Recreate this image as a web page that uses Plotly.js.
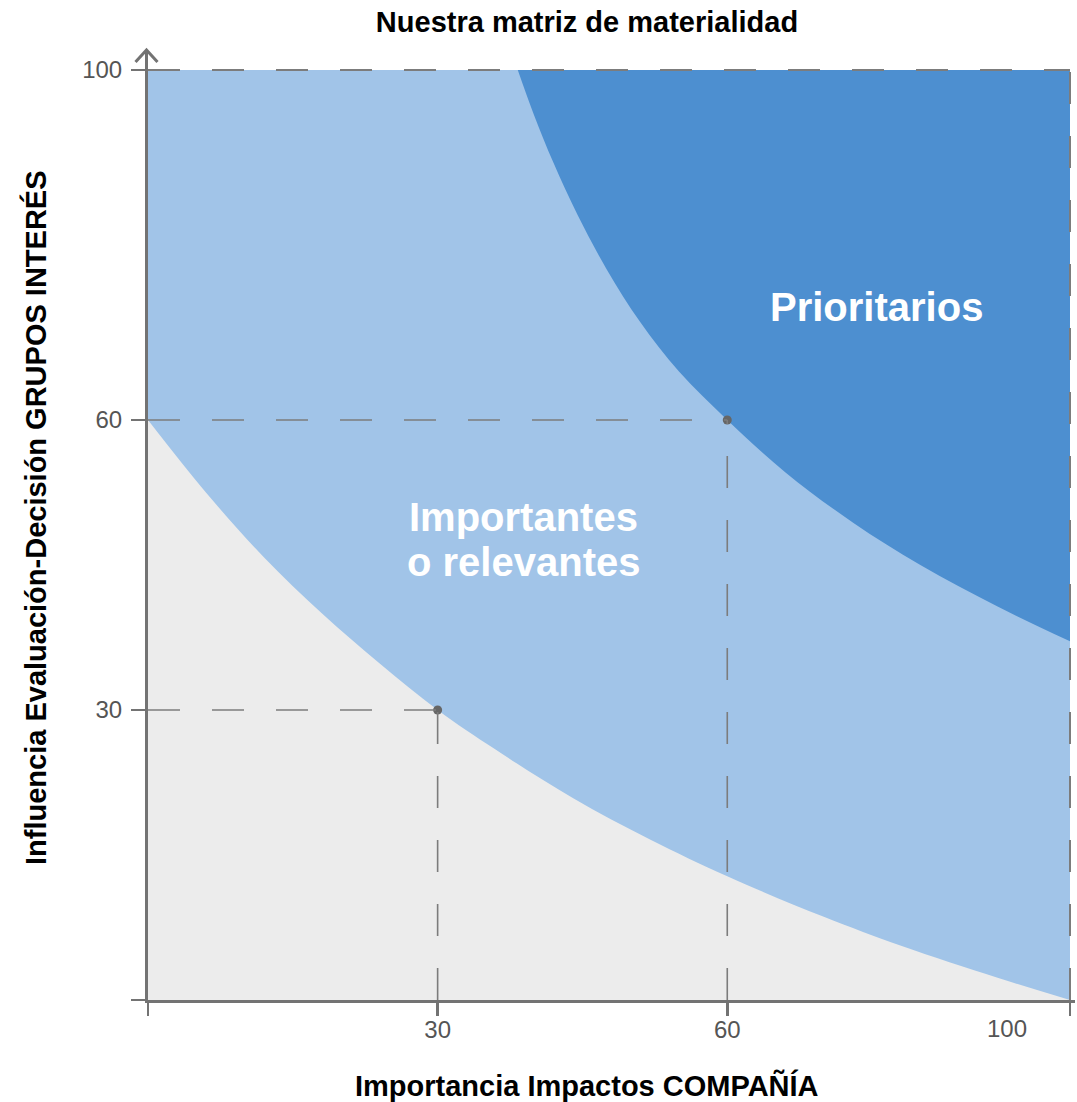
<!DOCTYPE html>
<html>
<head>
<meta charset="utf-8">
<script src="https://cdn.plot.ly/plotly-3.0.1.min.js"></script>
<style>
  html, body { margin: 0; padding: 0; background: #ffffff; }
  #chart { width: 1077px; height: 1102px; }
</style>
</head>
<body>
<div id="chart"></div>
<script>
// ---------- data ----------
const chartTitle = 'Nuestra matriz de materialidad';
const xAxisTitle = 'Importancia Impactos COMPAÑÍA';
const yAxisTitle = 'Influencia Evaluación-Decisión GRUPOS INTERÉS';

// axis extents (edge of the matrix, labelled "100")
const xMax = 95.5;
const yMax = 96.2;

// lower boundary: grey zone / "Importantes o relevantes"
const lowerX = [0, 6, 12, 18, 24, 30, 36, 44, 52, 60, 70, 78, 88, 95.5];
const lowerY = [60, 52.5, 45.8, 40.0, 34.8, 30, 25.9, 20.9, 16.6, 12.8, 8.6, 5.6, 2.3, 0];

// upper boundary: "Prioritarios"
const upperX = [38.3, 40, 42, 44.5, 47.5, 51, 55, 60, 66, 73, 80, 88, 95.5];
const upperY = [96.2, 91.5, 86.6, 81.2, 75.6, 70.1, 65.0, 60, 54.6, 49.4, 45.0, 40.7, 37.1];

// threshold points
const pointX = [30, 60];
const pointY = [30, 60];

// tick labels
const xTickVals = [0, 30, 60, xMax];
const xTickText = ['', '30', '60', ''];
const xEdgeLabel = '100';
const yTickVals = [0, 30, 60, yMax];
const yTickText = ['', '30', '60', '100'];

// region labels
const regionPrior = 'Prioritarios';
const regionImp1 = 'Importantes';
const regionImp2 = 'o relevantes';

// ---------- styles ----------
const FONT = 'Liberation Sans, Arial, Helvetica, sans-serif';
const GREY_BG = '#ececec';
const LIGHT_BLUE = '#a1c4e8';
const DARK_BLUE = '#4d8fd0';
const AXIS_COL = '#737373';
const DASH_COL = '#7c7c7c';
const TICK_FONT = { family: FONT, size: 24, color: '#555555' };
const PH = 930, PW = 922;

const topLine = {
  x: [0, xMax], y: [yMax, yMax], mode: 'lines',
  line: { width: 0 }, hoverinfo: 'skip', showlegend: false
};

const traces = [
  topLine,
  {
    x: lowerX, y: lowerY, mode: 'lines', fill: 'tonexty', fillcolor: LIGHT_BLUE,
    line: { width: 0, shape: 'spline', smoothing: 1 }, hoverinfo: 'skip', showlegend: false
  },
  Object.assign({}, topLine),
  {
    x: upperX, y: upperY, mode: 'lines', fill: 'tonexty', fillcolor: DARK_BLUE,
    line: { width: 0, shape: 'spline', smoothing: 1 }, hoverinfo: 'skip', showlegend: false
  },
  {
    x: pointX, y: pointY, mode: 'markers',
    marker: { size: 9, color: '#666666' }, hoverinfo: 'skip', showlegend: false
  }
];

const dashLine = { color: DASH_COL, width: 1.6, dash: '32px,32px' };
const shapes = [];
pointX.forEach((px, i) => {
  shapes.push({ type: 'line', xref: 'x', yref: 'y', x0: 0, x1: px, y0: pointY[i], y1: pointY[i], line: dashLine });
  shapes.push({ type: 'line', xref: 'x', yref: 'y', x0: px, x1: px, y0: 0, y1: pointY[i], line: dashLine });
});
// dashed top and right edges
shapes.push({ type: 'line', xref: 'paper', yref: 'paper', x0: 0, x1: 1, y0: 1, y1: 1, line: { color: DASH_COL, width: 2, dash: '32px,32px' } });
shapes.push({ type: 'line', xref: 'paper', yref: 'paper', x0: 1, x1: 1, y0: 0, y1: 1, line: { color: DASH_COL, width: 2, dash: '32px,32px' } });
// x axis line small overshoot on the right
shapes.push({ type: 'line', xref: 'paper', yref: 'paper', x0: 1, x1: 1 + 5 / PW, y0: -1.5 / PH, y1: -1.5 / PH, line: { color: AXIS_COL, width: 3 } });
// y axis arrow above the plot
shapes.push({ type: 'line', xref: 'paper', yref: 'paper', x0: -1.5 / PW, x1: -1.5 / PW, y0: 1, y1: 1 + 20 / PH, line: { color: AXIS_COL, width: 3 } });
shapes.push({
  type: 'path', xref: 'paper', yref: 'paper',
  path: 'M ' + (-12.5 / PW) + ',' + (1 + 8 / PH) + ' L ' + (-1.5 / PW) + ',' + (1 + 20 / PH) + ' L ' + (9.5 / PW) + ',' + (1 + 8 / PH),
  line: { color: AXIS_COL, width: 3 }
});

const annotations = [
  { text: '<b>' + regionPrior + '</b>', xref: 'x', yref: 'y', x: 75.5, y: 71.7, showarrow: false,
    font: { family: FONT, size: 40, color: '#ffffff' }, xanchor: 'center', yanchor: 'middle' },
  { text: '<b>' + regionImp1 + '</b>', xref: 'x', yref: 'y', x: 38.9, y: 50.0, showarrow: false,
    font: { family: FONT, size: 40, color: '#ffffff' }, xanchor: 'center', yanchor: 'middle' },
  { text: '<b>' + regionImp2 + '</b>', xref: 'x', yref: 'y', x: 38.9, y: 45.3, showarrow: false,
    font: { family: FONT, size: 40, color: '#ffffff' }, xanchor: 'center', yanchor: 'middle' },
  { text: xEdgeLabel, xref: 'x', yref: 'paper', x: 89.0, y: -28 / PH, showarrow: false,
    font: TICK_FONT, xanchor: 'center', yanchor: 'middle' },
  { text: '<b>' + xAxisTitle + '</b>', xref: 'paper', yref: 'paper', x: (587 - 148) / PW, y: -85 / PH, showarrow: false,
    font: { family: FONT, size: 29, color: '#000000' }, xanchor: 'center', yanchor: 'middle' },
  { text: '<b>' + yAxisTitle + '</b>', xref: 'paper', yref: 'paper', x: (35 - 148) / PW, y: (1000 - 518) / PH, showarrow: false,
    textangle: -90, font: { family: FONT, size: 29, color: '#000000' }, xanchor: 'center', yanchor: 'middle' }
];

const layout = {
  width: 1077, height: 1102,
  margin: { l: 148, r: 7, t: 70, b: 102, pad: 0 },
  paper_bgcolor: '#ffffff',
  plot_bgcolor: GREY_BG,
  showlegend: false,
  hovermode: false,
  title: {
    text: '<b>' + chartTitle + '</b>',
    font: { family: FONT, size: 29, color: '#000000' },
    xref: 'paper', x: (587 - 148) / PW, xanchor: 'center',
    yref: 'container', y: 1 - 22 / 1102, yanchor: 'middle'
  },
  xaxis: {
    range: [0, xMax], fixedrange: true,
    showgrid: false, zeroline: false,
    showline: true, linecolor: AXIS_COL, linewidth: 3,
    tickmode: 'array', tickvals: xTickVals, ticktext: xTickText,
    ticks: 'outside', ticklen: 13, tickwidth: 2.5, tickcolor: AXIS_COL,
    tickfont: TICK_FONT, ticklabelstandoff: -7
  },
  yaxis: {
    range: [0, yMax], fixedrange: true,
    showgrid: false, zeroline: false,
    showline: true, linecolor: AXIS_COL, linewidth: 3,
    tickmode: 'array', tickvals: yTickVals, ticktext: yTickText,
    ticks: 'outside', ticklen: 14, tickwidth: 2.5, tickcolor: AXIS_COL,
    tickfont: TICK_FONT, ticklabelstandoff: 4
  },
  shapes: shapes,
  annotations: annotations
};

Plotly.newPlot('chart', traces, layout, { displayModeBar: false, staticPlot: true });
</script>
</body>
</html>
